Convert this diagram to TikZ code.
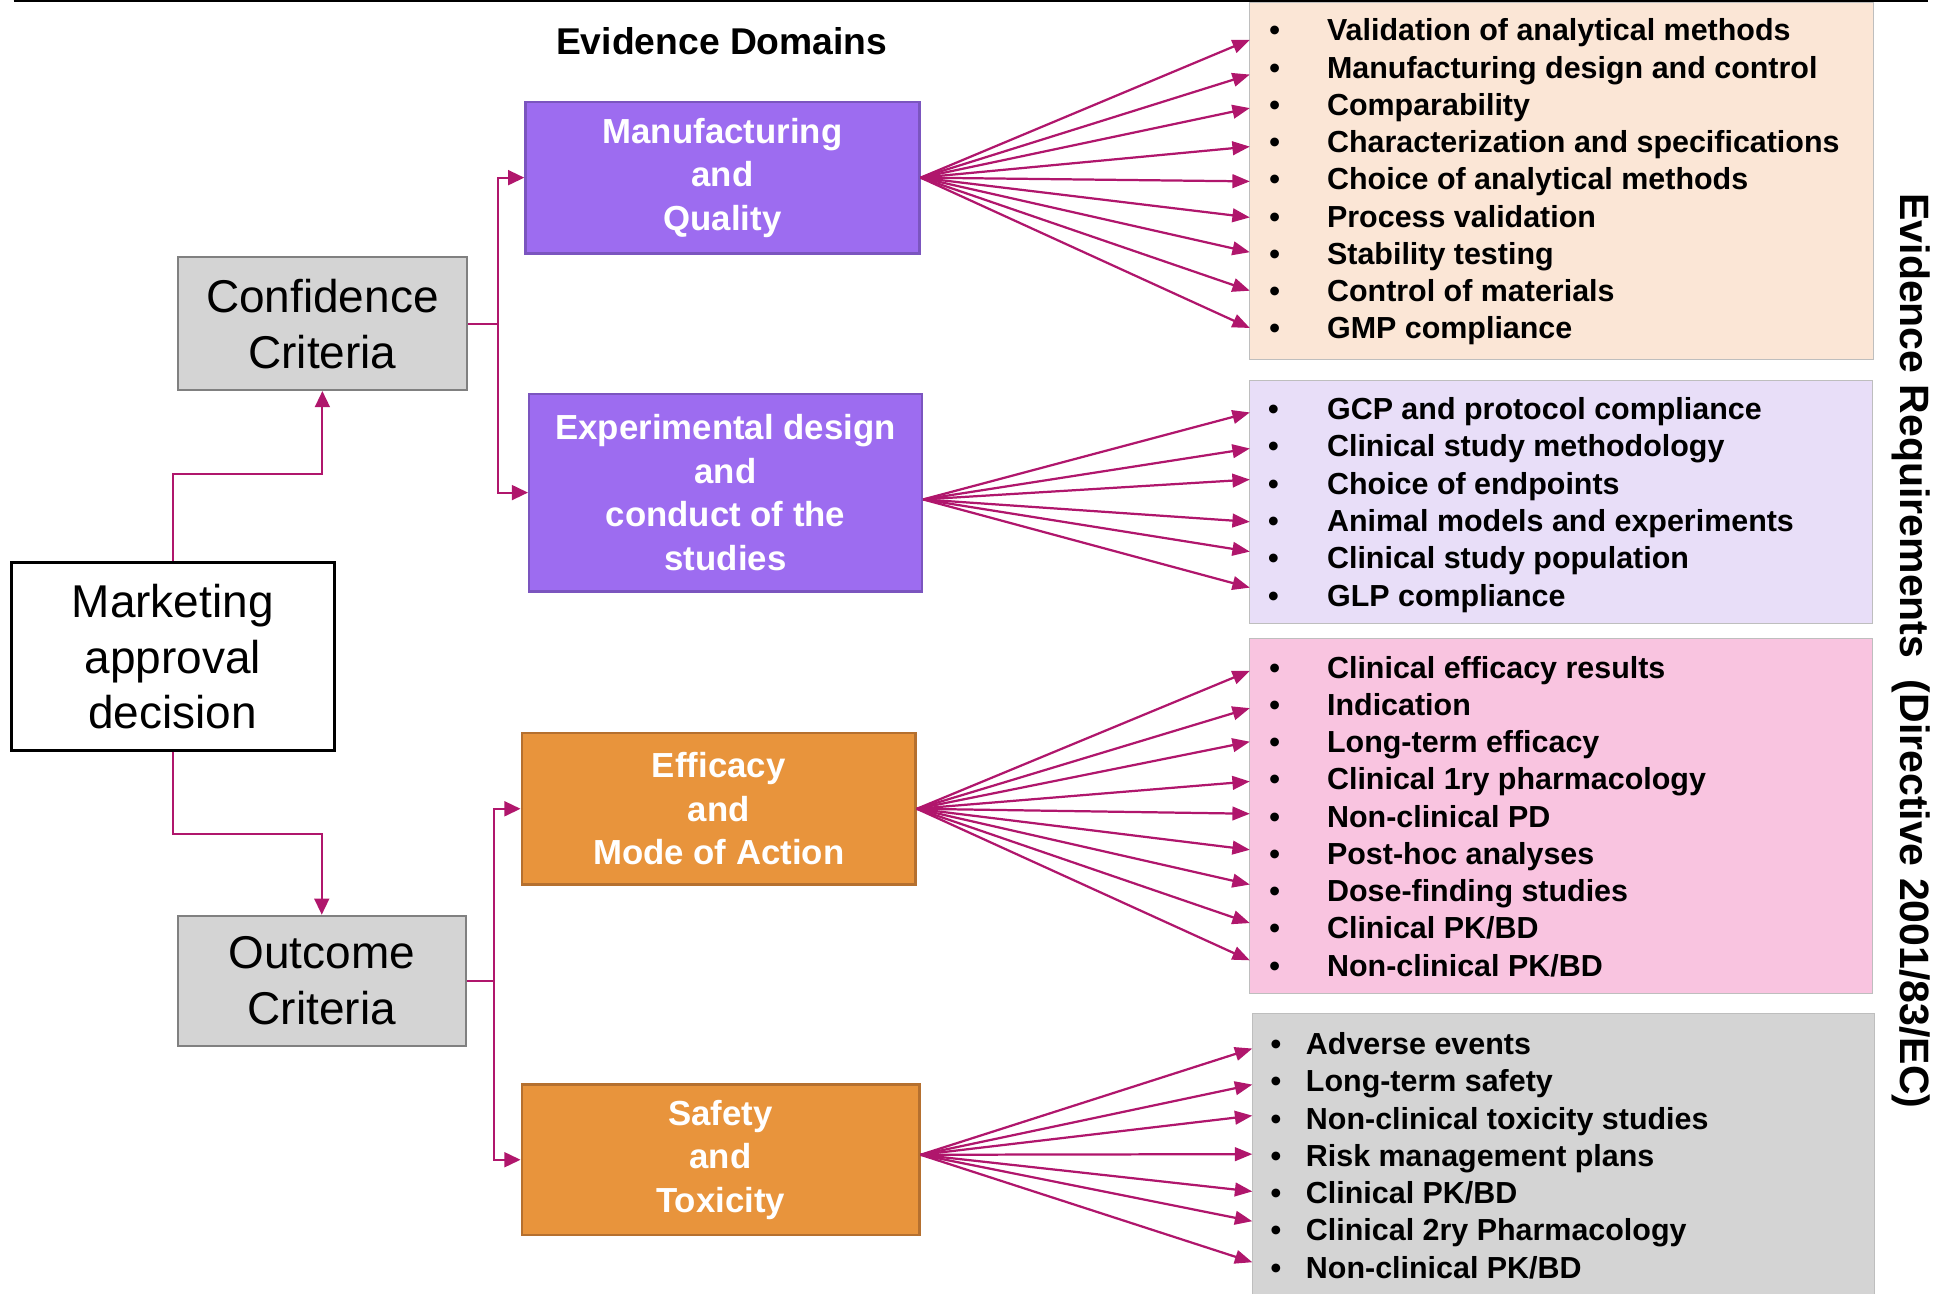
\documentclass[tikz,border=0pt]{standalone}
\usepackage{fontspec}
\setmainfont{Liberation Sans}
\usetikzlibrary{arrows.meta}
\definecolor{conncol}{RGB}{176,22,108}
\definecolor{purfill}{RGB}{157,108,240}
\definecolor{purdraw}{RGB}{123,85,191}
\definecolor{orafill}{RGB}{232,148,60}
\definecolor{oradraw}{RGB}{181,112,47}
\definecolor{critfill}{RGB}{212,212,212}
\definecolor{critdraw}{RGB}{128,128,128}
\definecolor{pone}{RGB}{251,230,214}
\definecolor{ptwo}{RGB}{232,222,248}
\definecolor{pthree}{RGB}{249,196,224}
\definecolor{pfour}{RGB}{212,212,212}
\definecolor{pborder}{RGB}{190,190,190}
\tikzset{
  basebox/.style={draw, inner sep=0pt, align=center, anchor=center},
  mktbox/.style={basebox, line width=2.4pt, draw=black, fill=white,
    font=\fontsize{37}{44.5}\selectfont, minimum width=260pt, minimum height=151pt},
  critbox/.style={basebox, line width=1.5pt, draw=critdraw, fill=critfill,
    font=\fontsize{37}{45}\selectfont},
  dombox/.style={basebox, line width=2pt, text=white,
    font=\bfseries\fontsize{28}{35}\selectfont},
  mqbox/.style={dombox, fill=purfill, draw=purdraw},
  eobox/.style={dombox, fill=orafill, draw=oradraw},
  panelbox/.style={draw=pborder, line width=0.8pt, inner sep=0pt},
  itemtxt/.style={anchor=base west, inner sep=0pt, font=\bfseries\fontsize{24.5}{30}\selectfont},
  bulletdot/.style={anchor=base, inner sep=0pt, font=\bfseries\fontsize{24.5}{30}\selectfont},
  elbow/.style={draw=conncol, line width=1.7pt, -{Triangle[length=13pt,width=12pt]}},
  fanarrow/.style={draw=conncol, line width=1.8pt, -{Triangle[length=14pt,width=11pt]}}
}
\begin{document}
\begin{tikzpicture}[x=1pt,y=-1pt]
\useasboundingbox (0,0) rectangle (1568,1041);

% top rule
\coordinate (tl) at (11,0.8);
\coordinate (tr) at (1552,0.8);
\draw[line width=1.6pt] (tl) -- (tr);

% panels
\node[panelbox, fill=pone, minimum width=502pt, minimum height=287pt] (p1) at (1257,145.5) {};
\node[panelbox, fill=ptwo, minimum width=501pt, minimum height=196pt] (p2) at (1256.5,404) {};
\node[panelbox, fill=pthree, minimum width=501pt, minimum height=286pt] (p3) at (1256.5,657) {};
\node[panelbox, fill=pfour, minimum width=501pt, minimum height=232pt] (p4) at (1258.5,932) {};

% title
\node[font=\bfseries\fontsize{30}{36}\selectfont, inner sep=0pt] (title) at (581,33) {Evidence Domains};

% main boxes
\node[mktbox] (mkt) at (139,528.5) {Marketing\\approval\\decision};
\node[critbox, minimum width=233pt, minimum height=107pt] (conf) at (259.5,260.5) {Confidence\\Criteria};
\node[critbox, minimum width=232pt, minimum height=105pt] (outc) at (259,789.5) {Outcome\\Criteria};

\node[mqbox, minimum width=317pt, minimum height=122pt] (mfg) at (581.5,143) {Manufacturing\\and\\Quality};
\node[mqbox, minimum width=316pt, minimum height=159pt] (expd) at (584,396.5) {Experimental design\\and\\conduct of the\\studies};
\node[eobox, minimum width=317pt, minimum height=122pt] (eff) at (578.5,651) {Efficacy\\and\\Mode of Action};
\node[eobox, minimum width=320pt, minimum height=121pt] (saf) at (580,933.5) {Safety\\and\\Toxicity};

% elbow connectors
\draw[elbow] (mkt.north) -- ++(0,-70) -| (conf.south);
\draw[elbow] (mkt.south) -- ++(0,66) -| (outc.north);
\draw[elbow] (conf.east) -- ++(24,0) |- (mfg.west);
\draw[elbow] (conf.east) -- ++(24,0) |- (expd.west);
\draw[elbow] (outc.east) -- ++(22,0) |- (eff.west);
\draw[elbow] (outc.east) -- ++(22,0) |- (saf.west);

% items panel 1
\foreach \t [count=\i] in {Validation of analytical methods, Manufacturing design and control, Comparability, Characterization and specifications, Choice of analytical methods, Process validation, Stability testing, Control of materials, GMP compliance}{
  \node[bulletdot] (ba\i) at (1026,{24+30*(\i-1)+8.8}) {•};
  \node[itemtxt] (ia\i) at (1068,{24+30*(\i-1)+8.8}) {\t};
}
% items panel 2
\foreach \t [count=\i] in {GCP and protocol compliance, Clinical study methodology, Choice of endpoints, Animal models and experiments, Clinical study population, GLP compliance}{
  \node[bulletdot] (bb\i) at (1025,{329+30*(\i-1)+8.8}) {•};
  \node[itemtxt] (ib\i) at (1068,{329+30*(\i-1)+8.8}) {\t};
}
% items panel 3
\foreach \t [count=\i] in {Clinical efficacy results, Indication, Long-term efficacy, Clinical 1ry pharmacology, Non-clinical PD, Post-hoc analyses, Dose-finding studies, Clinical PK/BD, Non-clinical PK/BD}{
  \node[bulletdot] (bc\i) at (1026,{537+30*(\i-1)+8.8}) {•};
  \node[itemtxt] (ic\i) at (1068,{537+30*(\i-1)+8.8}) {\t};
}
% items panel 4
\foreach \t [count=\i] in {Adverse events, Long-term safety, Non-clinical toxicity studies, Risk management plans, Clinical PK/BD, Clinical 2ry Pharmacology, Non-clinical PK/BD}{
  \node[bulletdot] (bd\i) at (1027,{840+30*(\i-1)+8.8}) {•};
  \node[itemtxt] (id\i) at (1051,{840+30*(\i-1)+8.8}) {\t};
}

% fan arrows
\foreach \y [count=\i] in {32,60,87,118,146,175,203,234,264}{
  \coordinate (ta\i) at (1006,\y);
  \draw[fanarrow] (mfg.east) -- (ta\i);
}
\foreach \y [count=\i] in {332,361,386,420,444,473}{
  \coordinate (tb\i) at (1006,\y);
  \draw[fanarrow] ([yshift=-5.5pt]expd.east) -- (tb\i);
}
\foreach \y [count=\i] in {540,570,597,629,655,684,712,743,773}{
  \coordinate (tc\i) at (1006,\y);
  \draw[fanarrow] (eff.east) -- (tc\i);
}
\foreach \y [count=\i] in {844,873,898,929,959,983,1016}{
  \coordinate (td\i) at (1008,\y);
  \draw[fanarrow] ([yshift=4pt]saf.east) -- (td\i);
}

% rotated side label
\node[rotate=-90, inner sep=0pt, font=\bfseries\fontsize{33}{38}\selectfont] (req) at (1538,524) {Evidence Requirements\hspace{0.25em} (Directive 2001/83/EC)};
\end{tikzpicture}
\end{document}
